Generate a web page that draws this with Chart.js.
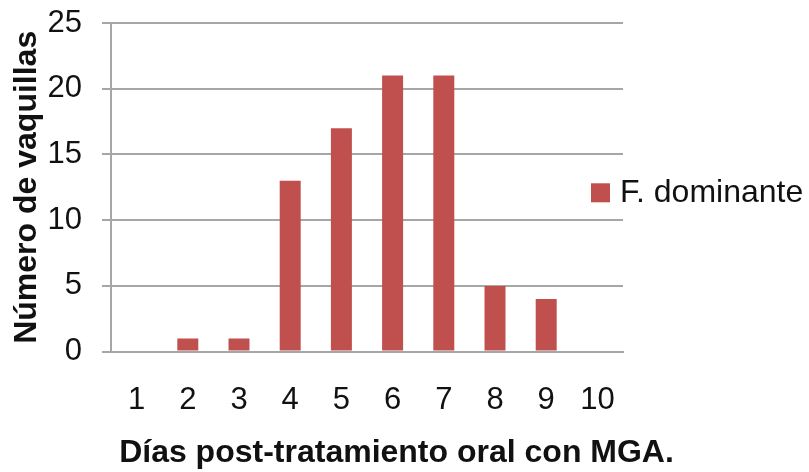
<!DOCTYPE html>
<html>
<head>
<meta charset="utf-8">
<script src="https://cdn.jsdelivr.net/npm/chart.js@4/dist/chart.umd.min.js"></script>
<style>
  html, body { margin: 0; padding: 0; background: #fff; }
  #wrap { width: 809px; height: 472px; }
</style>
</head>
<body>
<div id="wrap"><canvas id="grafico"></canvas></div>
<script>
const dias = ['1', '2', '3', '4', '5', '6', '7', '8', '9', '10'];
const vaquillas = [0, 1, 1, 13, 17, 21, 21, 5, 4, 0];
const serieNombre = 'F. dominante';
const ejeY = 'Número de vaquillas';
const ejeX = 'Días post-tratamiento oral con MGA.';

const fuente = 'Liberation Sans, Arial, sans-serif';
const gris = '#a6a6a6';
const rojo = '#c0504d';

// leyenda dibujada a mano, encima del area del grafico
const leyenda = {
  id: 'leyenda',
  afterDraw(chart) {
    const ctx = chart.ctx;
    const a = chart.chartArea;
    const ds = chart.data.datasets[0];
    const cy = (a.top + a.bottom) / 2 + 6;
    ctx.save();
    ctx.fillStyle = ds.backgroundColor;
    ctx.fillRect(a.right - 32, cy - 10, 19, 19);
    ctx.fillStyle = '#111';
    ctx.font = '32px ' + fuente;
    ctx.textBaseline = 'middle';
    ctx.textAlign = 'left';
    ctx.fillText(ds.label, a.right - 3, cy);
    ctx.restore();
  }
};

new Chart(document.getElementById('grafico'), {
  type: 'bar',
  data: {
    labels: dias,
    datasets: [{
      label: serieNombre,
      data: vaquillas,
      backgroundColor: rojo,
      barPercentage: 0.41,
      categoryPercentage: 1
    }]
  },
  options: {
    responsive: true,
    maintainAspectRatio: false,
    animation: false,
    layout: { padding: { top: 23, right: 16, bottom: 0, left: 0 } },
    plugins: {
      legend: { display: false },
      tooltip: { enabled: false },
      title: {
        display: true,
        position: 'bottom',
        text: ejeX,
        color: '#111',
        font: { family: fuente, size: 32, weight: 'bold' },
        padding: { top: 0, bottom: 0 }
      }
    },
    scales: {
      x: {
        grid: { display: false, drawTicks: false },
        border: { display: true, color: gris, width: 2 },
        ticks: { color: '#111', padding: 30, font: { family: fuente, size: 31 } },
        afterFit: s => { s.height = 82; s.paddingLeft = 0; s.paddingRight = 0; }
      },
      y: {
        min: 0,
        max: 25,
        ticks: { stepSize: 5, color: '#111', padding: 20, font: { family: fuente, size: 31 } },
        grid: { color: gris, lineWidth: 2, tickLength: 9 },
        border: { display: true, color: gris, width: 2 },
        title: {
          display: true,
          text: ejeY,
          color: '#111',
          font: { family: fuente, size: 32, weight: 'bold' },
          padding: { top: 8, bottom: 0 }
        },
        afterFit: s => { s.width = 111; s.paddingTop = 0; s.paddingBottom = 0; }
      },
      espacio: {
        type: 'linear',
        position: 'right',
        display: true,
        grid: { display: false },
        border: { display: false },
        ticks: { display: false },
        afterFit: s => { s.width = 170; s.paddingTop = 0; s.paddingBottom = 0; }
      }
    }
  },
  plugins: [leyenda]
});
</script>
</body>
</html>
